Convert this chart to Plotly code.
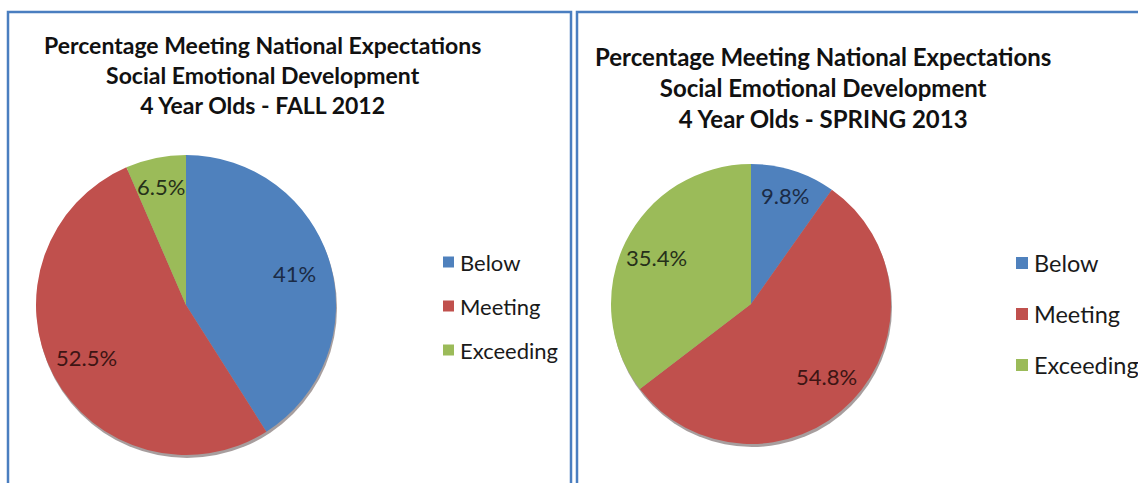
import math
import plotly.graph_objects as go

# ---- data ----
categories = ["Below", "Meeting", "Exceeding"]
fall_2012 = [41, 52.5, 6.5]
spring_2013 = [9.8, 54.8, 35.4]
colors = ["#4F81BD", "#C0504D", "#9BBB59"]
label_colors = ["#1b2b45", "#3d1514", "#26301a"]
titles = [
    "Percentage Meeting National Expectations<br>Social Emotional Development<br>4 Year Olds - FALL 2012",
    "Percentage Meeting National Expectations<br>Social Emotional Development<br>4 Year Olds - SPRING 2013",
]

W, H = 1138, 483
FONT = "Lato"

# pixel geometry of each panel: pie centre, radius, title centre, legend anchor
panels = [
    dict(values=fall_2012, cx=186, cy=305, r=150, title_x=262, title_y=75,
         title_size=23, label_size=22, leg_x=443, leg_y=262, leg_step=44, leg_size=22, sq=11),
    dict(values=spring_2013, cx=751, cy=304, r=140, title_x=823, title_y=87,
         title_size=24, label_size=22, leg_x=1016, leg_y=263, leg_step=51, leg_size=23.5, sq=12),
]


def px(x):
    return x / W


def py(y):
    return 1 - y / H


fig = go.Figure()
shapes = []
annotations = []

for p, title in zip(panels, titles):
    cx, cy, r = p["cx"], p["cy"], p["r"]
    # soft drop shadow under the pie
    shapes.append(dict(type="circle", xref="paper", yref="paper", layer="below",
                       x0=px(cx - r + 1), x1=px(cx + r + 1), y0=py(cy + r + 3), y1=py(cy - r + 3),
                       fillcolor="rgba(60,40,40,0.45)", line=dict(width=0)))
    fig.add_trace(go.Pie(
        labels=categories,
        values=p["values"],
        sort=False,
        direction="clockwise",
        rotation=0,
        marker=dict(colors=colors, line=dict(width=0)),
        textinfo="none",
        hoverinfo="label+value",
        showlegend=False,
        domain=dict(x=[px(cx - r), px(cx + r)], y=[py(cy + r), py(cy - r)]),
    ))

    # slice value labels placed along each slice bisector
    total = sum(p["values"])
    start = 0.0
    for v, col in zip(p["values"], label_colors):
        mid = (start + v / 2) / total
        start += v
        theta = mid * 2 * math.pi
        frac = 0.81 if v / total < 0.12 else 0.75
        lx = cx + frac * r * math.sin(theta)
        ly = cy - frac * r * math.cos(theta)
        annotations.append(dict(x=px(lx), y=py(ly), xref="paper", yref="paper",
                                xanchor="center", yanchor="middle",
                                text=f"{v:g}%", showarrow=False,
                                font=dict(family=FONT, size=p["label_size"], color=col)))

    # three-line bold title
    annotations.append(dict(x=px(p["title_x"]), y=py(p["title_y"]), xref="paper", yref="paper",
                            text="<b>" + title + "</b>", showarrow=False, align="center",
                            xanchor="center", yanchor="middle",
                            font=dict(family=FONT, size=p["title_size"], color="#111111")))

    # legend: coloured squares with category names
    for i, (cat, col) in enumerate(zip(categories, colors)):
        yy = p["leg_y"] + i * p["leg_step"]
        s = p["sq"]
        shapes.append(dict(type="rect", xref="paper", yref="paper",
                           x0=px(p["leg_x"]), x1=px(p["leg_x"] + s),
                           y0=py(yy + s / 2), y1=py(yy - s / 2),
                           fillcolor=col, line=dict(width=0)))
        annotations.append(dict(x=px(p["leg_x"] + s + 4), y=py(yy), xref="paper", yref="paper",
                                xanchor="left", yanchor="middle", text=cat, showarrow=False,
                                font=dict(family=FONT, size=p["leg_size"], color="#1a1a1a")))

# blue panel frames
frame = dict(color="#4A7EC0", width=2.5)
shapes.append(dict(type="path", xref="paper", yref="paper",
                   path=f"M {px(8)},{py(490)} L {px(8)},{py(12)} L {px(571)},{py(12)} L {px(571)},{py(490)}",
                   line=frame))
shapes.append(dict(type="path", xref="paper", yref="paper",
                   path=f"M {px(577)},{py(490)} L {px(577)},{py(12)} L {px(1145)},{py(12)}",
                   line=frame))

fig.update_layout(
    width=W, height=H,
    margin=dict(l=0, r=0, t=0, b=0),
    paper_bgcolor="white",
    plot_bgcolor="white",
    shapes=shapes,
    annotations=annotations,
)

fig.write_html("out.html")
